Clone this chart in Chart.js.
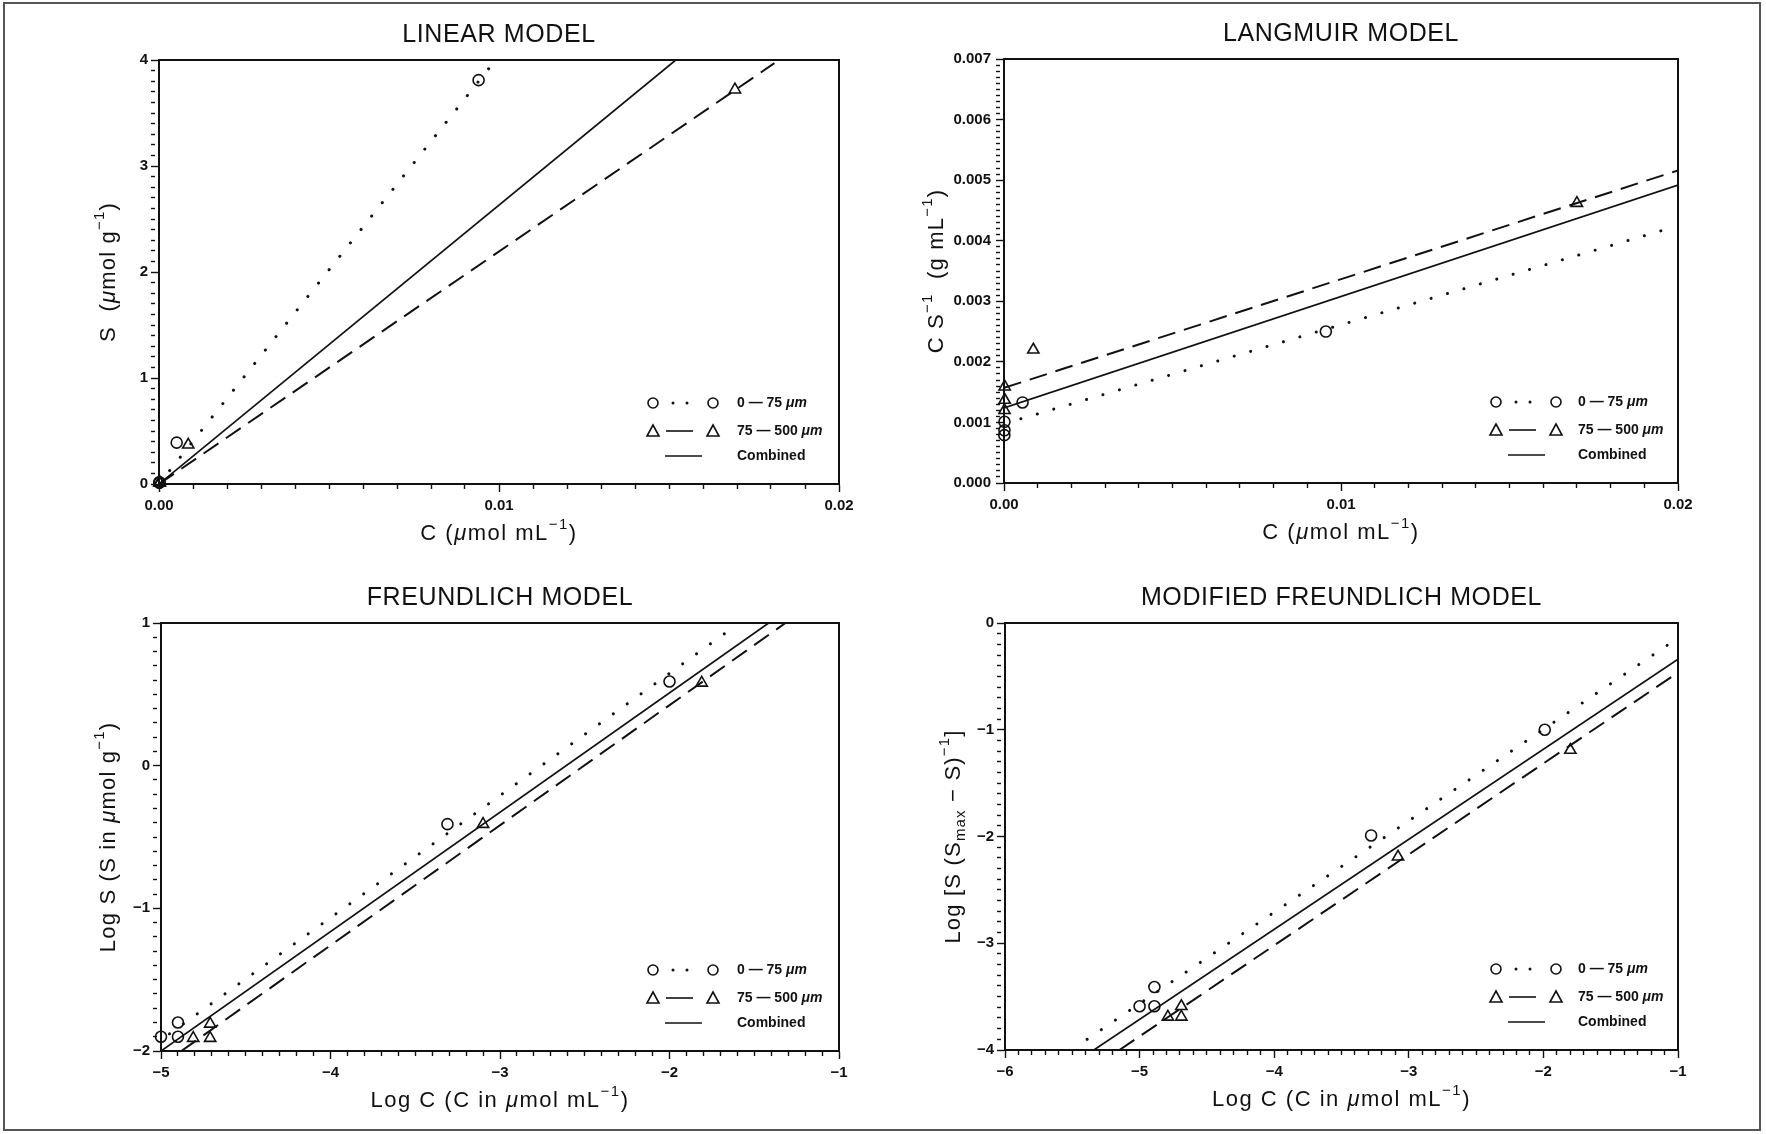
<!DOCTYPE html>
<html>
<head>
<meta charset="utf-8">
<title>Sorption isotherms</title>
<script src="https://cdn.jsdelivr.net/npm/chart.js@4.4.1/dist/chart.umd.min.js"></script>
<style>
  html, body { margin: 0; padding: 0; background: #fff; }
  #page { position: relative; width: 1766px; height: 1134px; overflow: hidden; background: #fff; }
  #page canvas { position: absolute; }
  #frame { position: absolute; left: 3px; top: 2px; width: 1758px; height: 1129px; border: 2px solid #555; box-sizing: border-box; }
</style>
</head>
<body>
<div id="page">
  <div id="frame"></div>
  <canvas id="linear" width="883" height="567" style="left:0;top:0"></canvas>
  <canvas id="langmuir" width="883" height="567" style="left:883px;top:0"></canvas>
  <canvas id="freundlich" width="883" height="567" style="left:0;top:567px"></canvas>
  <canvas id="modfreundlich" width="883" height="567" style="left:883px;top:567px"></canvas>
</div>
<script>
// ---- linear model: S vs C ----
const linFineC = [0.00001, 0.000013, 0.000013, 0.00052, 0.0094];
const linFineS = [0.013, 0.016, 0.013, 0.39, 3.81];
const linCoarseC = [0.000016, 0.00002, 0.00002, 0.00086, 0.01694];
const linCoarseS = [0.013, 0.016, 0.013, 0.37, 3.72];
const linFitFine = [[0, 0], [0.00975, 3.94]];
const linFitCoarse = [[0, 0], [0.0181, 3.97]];
const linFitAll = [[0, 0], [0.0152, 4.0]];
const linXTicks = [0, 0.01, 0.02];
const linXText = ['0.00', '0.01', '0.02'];
const linYTicks = [0, 1, 2, 3, 4];
const linYText = ['0', '1', '2', '3', '4'];

// ---- langmuir model: C/S vs C ----
const lanFineC = [0.00001, 0.000013, 0.000013, 0.00055, 0.00955];
const lanFineCS = [0.00079, 0.00087, 0.00101, 0.00133, 0.0025];
const lanCoarseC = [0.000016, 0.00002, 0.00002, 0.00087, 0.017];
const lanCoarseCS = [0.0012, 0.00137, 0.00159, 0.0022, 0.00462];
const lanFitFine = [[0.0005, 0.00106], [0.0196, 0.00418]];
const lanFitCoarse = [[0, 0.00157], [0.02, 0.00516]];
const lanFitAll = [[0, 0.00124], [0.02, 0.00492]];
const lanXTicks = [0, 0.01, 0.02];
const lanXText = ['0.00', '0.01', '0.02'];
const lanYTicks = [0, 0.001, 0.002, 0.003, 0.004, 0.005, 0.006, 0.007];
const lanYText = ['0.000', '0.001', '0.002', '0.003', '0.004', '0.005', '0.006', '0.007'];

// ---- freundlich model: log S vs log C ----
const freFineLogC = [-5.0, -4.9, -4.9, -3.31, -2.0];
const freFineLogS = [-1.9, -1.8, -1.9, -0.41, 0.59];
const freCoarseLogC = [-4.81, -4.71, -4.71, -3.1, -1.81];
const freCoarseLogS = [-1.91, -1.81, -1.91, -0.41, 0.58];
const freFitFine = [[-4.95, -1.88], [-1.6, 0.99]];
const freFitCoarse = [[-4.88, -2], [-1.316, 1]];
const freFitAll = [[-5, -2], [-1.415, 1]];
const freXTicks = [-5, -4, -3, -2, -1];
const freXText = ['−5', '−4', '−3', '−2', '−1'];
const freYTicks = [-2, -1, 0, 1];
const freYText = ['−2', '−1', '0', '1'];

// ---- modified freundlich model ----
const modFineLogC = [-5.0, -4.89, -4.89, -3.28, -1.99];
const modFineY = [-3.59, -3.59, -3.41, -1.99, -1.0];
const modCoarseLogC = [-4.79, -4.69, -4.69, -3.08, -1.8];
const modCoarseY = [-3.69, -3.59, -3.69, -2.19, -1.19];
const modFitFine = [[-5.39, -3.9], [-1.0, -0.14]];
const modFitCoarse = [[-5.15, -4], [-1, -0.464]];
const modFitAll = [[-5.34, -4], [-1, -0.339]];
const modXTicks = [-6, -5, -4, -3, -2, -1];
const modXText = ['−6', '−5', '−4', '−3', '−2', '−1'];
const modYTicks = [-4, -3, -2, -1, 0];
const modYText = ['−4', '−3', '−2', '−1', '0'];

const FONT = '"Liberation Sans", Arial, Helvetica, sans-serif';
const INK = '#111';

function pts(xs, ys) { return xs.map((x, i) => ({ x: x, y: ys[i] })); }
function seg(p) { return p.map(q => ({ x: q[0], y: q[1] })); }

function isMajor(v, vals, step) {
  return vals.some(t => Math.abs(t - v) < step * 0.01);
}

function axis(min, max, step, vals, text, fit) {
  return {
    type: 'linear', min: min, max: max,
    ticks: {
      stepSize: step, autoSkip: false, maxRotation: 0, minRotation: 0,
      color: INK, padding: fit.pad, font: { family: FONT, size: 15, weight: 'bold' },
      callback: v => {
        const i = vals.findIndex(t => Math.abs(t - v) < step * 0.01);
        return i < 0 ? '' : text[i];
      }
    },
    grid: {
      drawOnChartArea: false, drawTicks: true, tickLength: 8,
      tickColor: INK, tickWidth: 1.4,
      tickBorderDash: c => (c.tick && isMajor(c.tick.value, vals, step)) ? [] : [4, 40]
    },
    border: { color: INK, width: 2 },
    afterFit: fit.fn
  };
}

// rich text: [text, style] pieces, style '' | 'i' | 'sup' | 'sub'
function drawRich(ctx, parts, size, weight, spacing) {
  const fontOf = st => {
    const sz = (st === 'sup' || st === 'sub') ? size * 0.68 : size;
    return (st === 'i' ? 'italic ' : '') + weight + ' ' + sz + 'px ' + FONT;
  };
  ctx.letterSpacing = (spacing || 0) + 'px';
  let w = 0;
  parts.forEach(p => { ctx.font = fontOf(p[1]); w += ctx.measureText(p[0]).width; });
  let x = -w / 2;
  parts.forEach(p => {
    ctx.font = fontOf(p[1]);
    const dy = p[1] === 'sup' ? -size * 0.42 : p[1] === 'sub' ? size * 0.3 : 0;
    ctx.fillText(p[0], x, dy);
    x += ctx.measureText(p[0]).width;
  });
  ctx.letterSpacing = '0px';
  return w;
}

function legendRow(ctx, kind, x0, y) {
  ctx.save();
  ctx.strokeStyle = INK; ctx.fillStyle = INK; ctx.lineWidth = 1.6;
  if (kind === 'fine') {
    ctx.beginPath(); ctx.arc(x0, y, 5, 0, Math.PI * 2); ctx.stroke();
    [20, 34].forEach(d => { ctx.beginPath(); ctx.arc(x0 + d, y, 1.5, 0, Math.PI * 2); ctx.fill(); });
    ctx.beginPath(); ctx.arc(x0 + 60, y, 5, 0, Math.PI * 2); ctx.stroke();
  } else if (kind === 'coarse') {
    [0, 60].forEach(d => {
      ctx.beginPath();
      ctx.moveTo(x0 + d - 6, y + 5); ctx.lineTo(x0 + d + 6, y + 5); ctx.lineTo(x0 + d, y - 6);
      ctx.closePath(); ctx.stroke();
    });
    ctx.beginPath(); ctx.moveTo(x0 + 13, y); ctx.lineTo(x0 + 40, y); ctx.stroke();
  } else {
    ctx.beginPath(); ctx.moveTo(x0 + 12, y); ctx.lineTo(x0 + 49, y); ctx.stroke();
  }
  ctx.restore();
}

const panelDecor = {
  id: 'panelDecor',
  afterDraw(chart, args, o) {
    const ctx = chart.ctx;
    const a = chart.chartArea;
    ctx.save();
    ctx.fillStyle = INK;
    ctx.textBaseline = 'middle';
    ctx.textAlign = 'left';

    // plot frame
    ctx.strokeStyle = INK; ctx.lineWidth = 2;
    ctx.strokeRect(a.left, a.top, a.right - a.left, a.bottom - a.top);

    // panel title
    ctx.save();
    ctx.translate((a.left + a.right) / 2, a.top - 25);
    drawRich(ctx, [[o.title, '']], 25, 'normal', 0.6);
    ctx.restore();

    // axis titles
    ctx.save();
    ctx.translate((a.left + a.right) / 2, a.bottom + 50);
    drawRich(ctx, o.xTitle, 22, 'normal', 1.5);
    ctx.restore();
    ctx.save();
    ctx.translate(a.left - o.yOff, (a.top + a.bottom) / 2);
    ctx.rotate(-Math.PI / 2);
    drawRich(ctx, o.yTitle, 22, 'normal', 1.2);
    ctx.restore();

    // legend
    const lx = a.right - o.legX;
    const tx = a.right - o.legText;
    const rows = [['fine', [['0 — 75 ', ''], ['μm', 'i']], 81],
                  ['coarse', [['75 — 500 ', ''], ['μm', 'i']], 53],
                  ['all', [['Combined', '']], 28]];
    rows.forEach(r => {
      const y = a.bottom - r[2];
      legendRow(ctx, r[0], lx, y);
      ctx.save();
      let w = 0;
      r[1].forEach(p => { ctx.font = (p[1] === 'i' ? 'italic ' : '') + 'bold 14px ' + FONT; w += ctx.measureText(p[0]).width; });
      ctx.translate(tx + w / 2, y);
      drawRich(ctx, r[1], 14, 'bold', 0);
      ctx.restore();
    });
    ctx.restore();
  }
};

function lineSets(fine, coarse, all) {
  return [
    { data: seg(all), showLine: true, pointRadius: 0, borderColor: INK, borderWidth: 1.7 },
    { data: seg(coarse), showLine: true, pointRadius: 0, borderColor: INK, borderWidth: 2, borderDash: [18, 9] },
    { data: seg(fine), showLine: true, pointRadius: 0, borderColor: INK, borderWidth: 3,
      borderDash: [0.1, 17], borderCapStyle: 'round' }
  ];
}

function markerSets(fine, coarse) {
  return [
    { data: coarse, pointStyle: 'triangle', pointRadius: 6.5, borderWidth: 1.6,
      borderColor: INK, backgroundColor: 'rgba(255,255,255,0)', clip: false },
    { data: fine, pointStyle: 'circle', pointRadius: 5.5, borderWidth: 1.6,
      borderColor: INK, backgroundColor: 'rgba(255,255,255,0)', clip: false }
  ];
}

function makePanel(id, area, xAx, yAx, sets, decor) {
  const xFit = { pad: 5, fn: s => { s.height = 567 - area.bottom; } };
  const yFit = { pad: area.yPad, fn: s => { s.width = area.left; } };
  return new Chart(document.getElementById(id), {
    type: 'scatter',
    data: { datasets: sets },
    plugins: [panelDecor],
    options: {
      responsive: false, animation: false,
      layout: { padding: { left: 0, top: area.top, right: 883 - area.right, bottom: 0 } },
      plugins: { legend: { display: false }, tooltip: { enabled: false }, panelDecor: decor },
      scales: {
        x: axis(xAx[0], xAx[1], xAx[2], xAx[3], xAx[4], xFit),
        y: axis(yAx[0], yAx[1], yAx[2], yAx[3], yAx[4], yFit)
      }
    }
  });
}

const muMolMl = [['μ', 'i'], ['mol mL', ''], ['−1', 'sup'], [')', '']];

makePanel('linear',
  { left: 159, top: 60, right: 839, bottom: 484, yPad: 3 },
  [0, 0.02, 0.001, linXTicks, linXText],
  [0, 4, 0.1, linYTicks, linYText],
  markerSets(pts(linFineC, linFineS), pts(linCoarseC, linCoarseS))
    .concat(lineSets(linFitFine, linFitCoarse, linFitAll)),
  { title: 'LINEAR MODEL', xTitle: [['C (', '']].concat(muMolMl),
    yTitle: [['S  (', ''], ['μ', 'i'], ['mol g', ''], ['−1', 'sup'], [')', '']],
    yOff: 50, legX: 186, legText: 102 });

makePanel('langmuir',
  { left: 121, top: 59, right: 795, bottom: 483, yPad: 5 },
  [0, 0.02, 0.001, lanXTicks, lanXText],
  [0, 0.007, 0.0001, lanYTicks, lanYText],
  markerSets(pts(lanFineC, lanFineCS), pts(lanCoarseC, lanCoarseCS))
    .concat(lineSets(lanFitFine, lanFitCoarse, lanFitAll)),
  { title: 'LANGMUIR MODEL', xTitle: [['C (', '']].concat(muMolMl),
    yTitle: [['C S', ''], ['−1', 'sup'], ['  (g mL', ''], ['−1', 'sup'], [')', '']],
    yOff: 67, legX: 182, legText: 100 });

makePanel('freundlich',
  { left: 161, top: 56, right: 839, bottom: 484, yPad: 3 },
  [-5, -1, 0.1, freXTicks, freXText],
  [-2, 1, 0.1, freYTicks, freYText],
  markerSets(pts(freFineLogC, freFineLogS), pts(freCoarseLogC, freCoarseLogS))
    .concat(lineSets(freFitFine, freFitCoarse, freFitAll)),
  { title: 'FREUNDLICH MODEL', xTitle: [['Log C (C in ', '']].concat(muMolMl),
    yTitle: [['Log S (S in ', ''], ['μ', 'i'], ['mol g', ''], ['−1', 'sup'], [')', '']],
    yOff: 52, legX: 186, legText: 102 });

makePanel('modfreundlich',
  { left: 122, top: 56, right: 795, bottom: 483, yPad: 3 },
  [-6, -1, 0.1, modXTicks, modXText],
  [-4, 0, 0.1, modYTicks, modYText],
  markerSets(pts(modFineLogC, modFineY), pts(modCoarseLogC, modCoarseY))
    .concat(lineSets(modFitFine, modFitCoarse, modFitAll)),
  { title: 'MODIFIED FREUNDLICH MODEL', xTitle: [['Log C (C in ', '']].concat(muMolMl),
    yTitle: [['Log [S (S', ''], ['max', 'sub'], [' − S)', ''], ['−1', 'sup'], [']', '']],
    yOff: 51, legX: 182, legText: 100 });
</script>
</body>
</html>
